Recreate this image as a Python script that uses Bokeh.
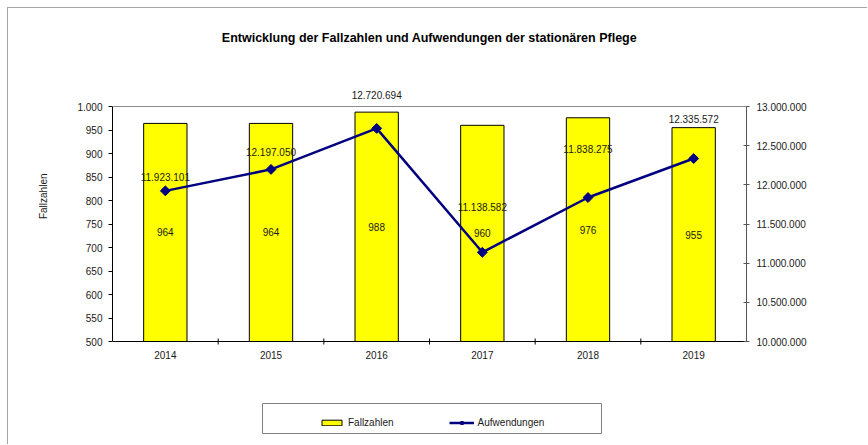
import math
from bokeh.plotting import figure
from bokeh.models import (FactorRange, Range1d, LinearAxis, FixedTicker, Title,
                          CustomJSTickFormatter, ColumnDataSource, LabelSet, Label,
                          Legend, LegendItem, BoxAnnotation, Span)
from bokeh.core.properties import value
from bokeh.embed import file_html
from bokeh.resources import INLINE

# ---- data ----
years = ["2014", "2015", "2016", "2017", "2018", "2019"]
fallzahlen = [964, 964, 988, 960, 976, 955]
aufwendungen = [11923101, 12197050, 12720694, 11138582, 11838275, 12335572]
left_ticks = [500, 550, 600, 650, 700, 750, 800, 850, 900, 950, 1000]
right_ticks = [10000000, 10500000, 11000000, 11500000, 12000000, 12500000, 13000000]
title_text = "Entwicklung der Fallzahlen und Aufwendungen der stationären Pflege"
left_axis_title = "Fallzahlen"

# ---- layout constants (pixels) ----
W, H = 860, 437            # figure size (placed at 8,8 on the page)
PLOT_TOP, PLOT_BOTTOM = 98, 333   # visible plot area (figure coords)
FRAME_LEFT, FRAME_RIGHT = 104, 122
label_offsets = [14, 17, 33, 45, 49, 40]   # px, Aufwendungen label placement

left_min, left_max = left_ticks[0], left_ticks[-1]
right_min, right_max = right_ticks[0], right_ticks[-1]
plot_h = PLOT_BOTTOM - PLOT_TOP
lpp = (left_max - left_min) / plot_h
rpp = (right_max - right_min) / plot_h


def ly(py):
    """figure pixel y -> left-axis data value"""
    return left_min + (PLOT_BOTTOM - py) * lpp


FONT = "Liberation Sans"
FS = "10px"
TXT = "#1a1a1a"


def de_fmt(v):
    return f"{v:,}".replace(",", ".")


src = ColumnDataSource(dict(
    year=years,
    faelle=fallzahlen,
    faelle_mid=[(left_min + v) / 2 for v in fallzahlen],
    faelle_txt=[str(v) for v in fallzahlen],
    kosten=aufwendungen,
    kosten_txt=[de_fmt(v) for v in aufwendungen],
    off=label_offsets,
))

p = figure(x_range=FactorRange(*years),
           y_range=Range1d(ly(H), ly(0)),
           width=W, height=H, output_backend="svg", toolbar_location=None,
           title=None,
           min_border_left=FRAME_LEFT, min_border_right=FRAME_RIGHT,
           min_border_top=0, min_border_bottom=0)
p.extra_y_ranges = {"right": Range1d(right_min - (H - PLOT_BOTTOM) * rpp,
                                     right_max + PLOT_TOP * rpp)}
p.xgrid.grid_line_color = None
p.ygrid.grid_line_color = None
p.outline_line_color = None
p.background_fill_color = "white"
p.styles = {"margin-left": "7px", "margin-top": "7px",
            "border-top": "1px solid #a6a6a6", "border-left": "1px solid #a6a6a6"}

fmt = CustomJSTickFormatter(code="return tick.toFixed(0).replace(/\\B(?=(\\d{3})+(?!\\d))/g, '.');")

# left axis
ya = p.yaxis[0]
ya.ticker = FixedTicker(ticks=left_ticks)
ya.bounds = (left_min, left_max)
ya.formatter = fmt
ya.major_label_text_font = FONT
ya.major_label_text_font_size = FS
ya.major_label_text_color = TXT
ya.major_label_standoff = 6
ya.major_tick_out = 4
ya.major_tick_in = 0
ya.minor_tick_line_color = None
ya.axis_line_color = "black"
ya.major_tick_line_color = "black"

# left axis title
p.add_layout(Title(text=left_axis_title, align="right", offset=165, standoff=51,
                   text_font=FONT, text_font_size=FS, text_font_style="normal",
                   text_color=TXT), "left")

# right axis
ra = LinearAxis(y_range_name="right", ticker=FixedTicker(ticks=right_ticks),
                formatter=fmt, bounds=(right_min, right_max))
ra.major_label_text_font = FONT
ra.major_label_text_font_size = FS
ra.major_label_text_color = TXT
ra.major_label_standoff = 7
ra.major_tick_out = 3
ra.major_tick_in = 3
ra.minor_tick_line_color = None
ra.axis_line_color = "#555555"
ra.major_tick_line_color = "#555555"
p.add_layout(ra, "right")

# x axis (fixed at the bottom of the value scale)
xa = p.xaxis[0]
xa.fixed_location = left_min
xa.major_label_text_font = FONT
xa.major_label_text_font_size = FS
xa.major_label_text_color = TXT
xa.major_label_standoff = 9
xa.major_tick_out = 0
xa.major_tick_in = 0
xa.major_tick_line_color = None
xa.axis_line_color = "black"

# top border of plot area
p.add_layout(Span(location=left_max, dimension="width", line_color="#8c8c8c", line_width=1))

# bars
bars = p.vbar(x="year", top="faelle", bottom=left_min, width=0.41, source=src,
              fill_color="#FFFF00", line_color="black", line_width=1)

# boundary ticks on the category axis
n = len(years)
p.segment(x0=list(range(1, n)), x1=list(range(1, n)),
          y0=[left_min - 3 * lpp] * (n - 1), y1=[left_min + 3 * lpp] * (n - 1),
          line_color="black", line_width=1)

# line
ln = p.line(x="year", y="kosten", y_range_name="right", source=src,
            line_color="#000080", line_width=2.5)
pts = p.scatter(x="year", y="kosten", y_range_name="right", source=src,
                marker="square", angle=math.pi / 4, size=7,
                fill_color="#000080", line_color="#000080")

# data labels
p.add_layout(LabelSet(x="year", y="faelle_mid", text="faelle_txt", source=src,
                      text_align="center", text_baseline="middle",
                      text_font=value(FONT), text_font_size=value(FS), text_color=TXT))
p.add_layout(LabelSet(x="year", y="kosten", text="kosten_txt", source=src,
                      y_range_name="right", y_offset="off",
                      text_align="center", text_baseline="middle",
                      text_font=value(FONT), text_font_size=value(FS), text_color=TXT))

# title
p.add_layout(Label(x=n / 2, y=ly(29), text=title_text, text_align="center",
                   text_baseline="middle", text_font=FONT, text_font_size="12.5px",
                   text_font_style="bold", text_color="black"))

# legend box + legend
p.add_layout(BoxAnnotation(left=(262 - 112) / 105.67, right=(601 - 112) / 105.67,
                           top=ly(395), bottom=ly(425), fill_alpha=0,
                           line_color="#808080", line_width=1, line_alpha=1))
legend = Legend(items=[LegendItem(label="Fallzahlen", renderers=[bars]),
                       LegendItem(label="Aufwendungen", renderers=[ln, pts])],
                orientation="horizontal", location=(207, H - 420), padding=0, margin=0,
                border_line_color=None, background_fill_alpha=0,
                glyph_width=25, glyph_height=7, label_height=7, label_standoff=4,
                spacing=55,
                label_text_font=FONT, label_text_font_size=FS, label_text_color=TXT)
p.add_layout(legend, "center")

open("out.html", "w").write(file_html(p, INLINE))
